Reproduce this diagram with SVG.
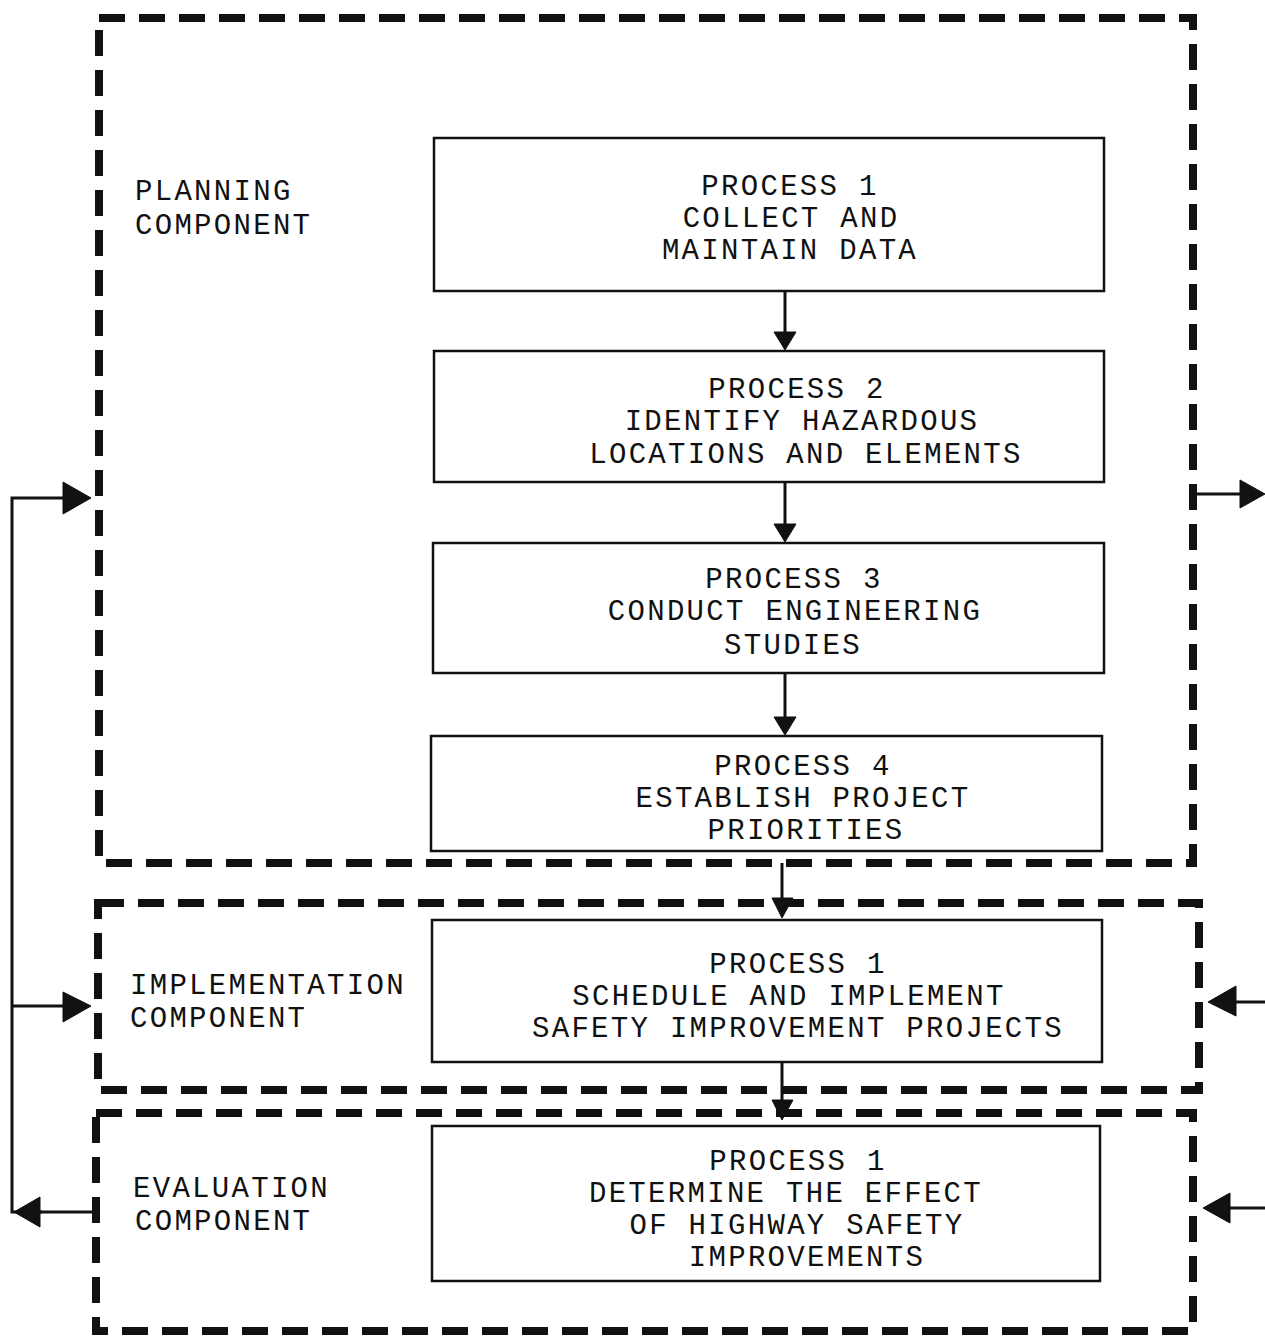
<svg xmlns="http://www.w3.org/2000/svg" width="1265" height="1338" viewBox="0 0 1265 1338">
<style>
.bg{fill:#fff}
.dash{fill:none;stroke:#111;stroke-width:8;stroke-dasharray:26 14}
.box{fill:#fff;stroke:#111;stroke-width:2.5}
.t{font-family:"Liberation Mono","DejaVu Sans Mono",monospace;font-size:29px;letter-spacing:2.3px;fill:#111}
.c{text-anchor:middle}
.ln{fill:none;stroke:#111;stroke-width:3}
.ah{fill:#111;stroke:#111;stroke-width:1}
</style>
<rect class="bg" x="0" y="0" width="1265" height="1338"/>
<g id="planning-component">
<rect class="dash" x="99" y="18" width="1094" height="845"/>
<text class="t" x="135" y="200">PLANNING</text>
<text class="t" x="135" y="234">COMPONENT</text>
</g>
<g id="implementation-component">
<rect class="dash" x="98" y="903" width="1101" height="187"/>
<text class="t" x="130" y="994">IMPLEMENTATION</text>
<text class="t" x="130" y="1027">COMPONENT</text>
</g>
<g id="evaluation-component">
<rect class="dash" x="96" y="1113" width="1097" height="218"/>
<text class="t" x="133" y="1197">EVALUATION</text>
<text class="t" x="135" y="1230">COMPONENT</text>
</g>
<g id="p1">
<rect class="box" x="434" y="138" width="670" height="153"/>
<text class="t c" x="790" y="195">PROCESS 1</text>
<text class="t c" x="791" y="227">COLLECT AND</text>
<text class="t c" x="790" y="259">MAINTAIN DATA</text>
</g>
<g id="p2">
<rect class="box" x="434" y="351" width="670" height="131"/>
<text class="t c" x="797" y="398">PROCESS 2</text>
<text class="t c" x="802" y="430">IDENTIFY HAZARDOUS</text>
<text class="t c" x="806" y="463">LOCATIONS AND ELEMENTS</text>
</g>
<g id="p3">
<rect class="box" x="433" y="543" width="671" height="130"/>
<text class="t c" x="794" y="588">PROCESS 3</text>
<text class="t c" x="795" y="620">CONDUCT ENGINEERING</text>
<text class="t c" x="793" y="654">STUDIES</text>
</g>
<g id="p4">
<rect class="box" x="431" y="736" width="671" height="115"/>
<text class="t c" x="803" y="775">PROCESS 4</text>
<text class="t c" x="803" y="807">ESTABLISH PROJECT</text>
<text class="t c" x="806" y="839">PRIORITIES</text>
</g>
<g id="impl-p1">
<rect class="box" x="432" y="920" width="670" height="142"/>
<text class="t c" x="798" y="973">PROCESS 1</text>
<text class="t c" x="789" y="1005">SCHEDULE AND IMPLEMENT</text>
<text class="t c" x="798" y="1037">SAFETY IMPROVEMENT PROJECTS</text>
</g>
<g id="eval-p1">
<rect class="box" x="432" y="1126" width="668" height="155"/>
<text class="t c" x="798" y="1170">PROCESS 1</text>
<text class="t c" x="786" y="1202">DETERMINE THE EFFECT</text>
<text class="t c" x="797" y="1234">OF HIGHWAY SAFETY</text>
<text class="t c" x="807" y="1266">IMPROVEMENTS</text>
</g>
<g id="connectors">
<line class="ln" x1="785" y1="291" x2="785" y2="334"/>
<polygon class="ah" points="774,332 796,332 785,350"/>
<line class="ln" x1="785" y1="482" x2="785" y2="526"/>
<polygon class="ah" points="774,524 796,524 785,542"/>
<line class="ln" x1="785" y1="673" x2="785" y2="719"/>
<polygon class="ah" points="774,717 796,717 785,735"/>
<line class="ln" x1="782" y1="863" x2="782" y2="900"/>
<polygon class="ah" points="772,898 793,898 782,918"/>
<line class="ln" x1="782" y1="1062" x2="782" y2="1102"/>
<polygon class="ah" points="772,1100 793,1100 782,1120"/>
<polyline class="ln" points="64,498 12,498 12,1212 42,1212"/>
<line class="ln" x1="12" y1="1006" x2="64" y2="1006"/>
<polygon class="ah" points="63,482 91,498 63,514"/>
<polygon class="ah" points="63,992 91,1006 63,1022"/>
<line class="ln" x1="40" y1="1212" x2="92" y2="1212"/>
<polygon class="ah" points="40,1197 14,1212 40,1227"/>
<line class="ln" x1="1197" y1="494" x2="1242" y2="494"/>
<polygon class="ah" points="1240,480 1265,494 1240,508"/>
<line class="ln" x1="1234" y1="1002" x2="1265" y2="1002"/>
<polygon class="ah" points="1236,986 1208,1002 1236,1016"/>
<line class="ln" x1="1228" y1="1208" x2="1265" y2="1208"/>
<polygon class="ah" points="1230,1193 1203,1208 1230,1223"/>
</g>
</svg>
